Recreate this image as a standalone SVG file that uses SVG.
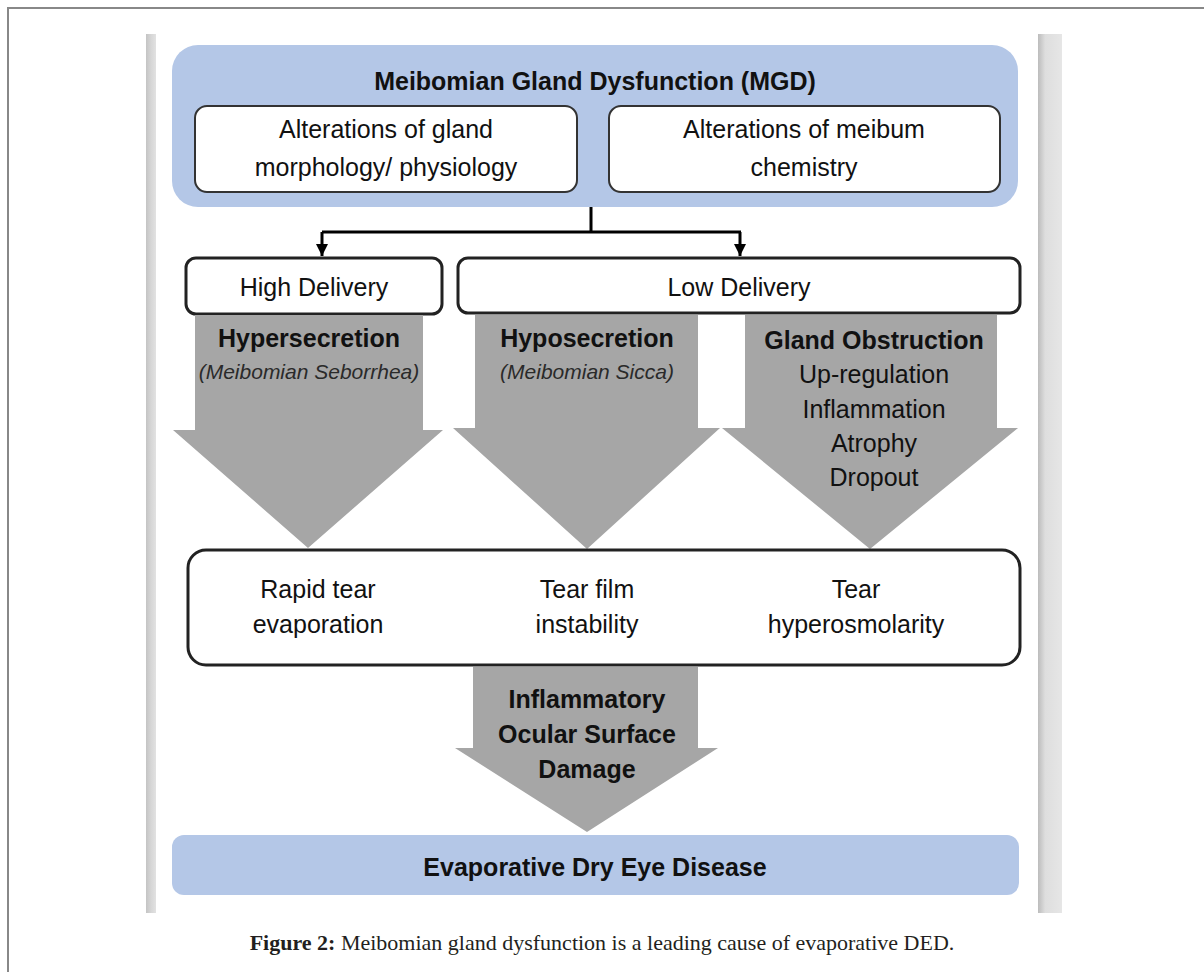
<svg xmlns="http://www.w3.org/2000/svg" width="1204" height="972" viewBox="0 0 1204 972">
<defs>
<linearGradient id="barL" x1="0" y1="0" x2="1" y2="0">
<stop offset="0" stop-color="#c4c4c4"/><stop offset="0.5" stop-color="#d6d6d6"/><stop offset="1" stop-color="#e2e2e2"/>
</linearGradient>
<linearGradient id="barR" x1="0" y1="0" x2="1" y2="0">
<stop offset="0" stop-color="#bcbcbc"/><stop offset="0.3" stop-color="#dedede"/><stop offset="1" stop-color="#e6e6e6"/>
</linearGradient>
<marker id="ah" viewBox="0 0 10 10" refX="10" refY="5" markerWidth="4" markerHeight="4" orient="auto" markerUnits="strokeWidth">
<path d="M0,0 L10,5 L0,10 z" fill="#000"/>
</marker>
<style>
.t{font-family:"Liberation Sans",Arial,sans-serif;font-size:25px;fill:#111;text-anchor:middle}
.b{font-weight:bold}
.i{font-style:italic;font-size:21px;fill:#2a2a2a}
.wbox{fill:#fff;stroke:#222;stroke-width:3}
.sbox{fill:#fff;stroke:#333;stroke-width:2}
.blue{fill:#b4c7e7}
.garrow{fill:#a6a6a6}
.conn{fill:none;stroke:#000;stroke-width:3}
</style>
</defs>
<rect width="1204" height="972" fill="#fff"/>
<!-- page frame -->
<path d="M8,972 L8,8 L1204,8" fill="none" stroke="#888" stroke-width="2"/>
<rect x="146" y="34" width="10" height="879" fill="url(#barL)"/>
<rect x="1038" y="34" width="24" height="879" fill="url(#barR)"/>

<g id="mgd">
<rect class="blue" x="172" y="45" width="846" height="162" rx="26"/>
<text class="t b" x="595" y="90">Meibomian Gland Dysfunction (MGD)</text>
</g>
<g id="alt-morph">
<rect class="sbox" x="195" y="106" width="382" height="86" rx="12"/>
<text class="t" x="386" y="138">Alterations of gland</text>
<text class="t" x="386" y="176">morphology/ physiology</text>
</g>
<g id="alt-chem">
<rect class="sbox" x="609" y="106" width="391" height="86" rx="12"/>
<text class="t" x="804" y="138">Alterations of meibum</text>
<text class="t" x="804" y="176">chemistry</text>
</g>

<g id="connectors">
<path class="conn" d="M591,207 V232 M322,232 H741"/>
<path class="conn" d="M322,232 V256" marker-end="url(#ah)"/>
<path class="conn" d="M740,232 V256" marker-end="url(#ah)"/>
</g>

<g id="high-delivery">
<rect class="wbox" x="186" y="258" width="256" height="56" rx="10"/>
<text class="t" x="314" y="296">High Delivery</text>
</g>
<g id="low-delivery">
<rect class="wbox" x="458" y="258" width="562" height="55" rx="10"/>
<text class="t" x="739" y="296">Low Delivery</text>
</g>

<g id="hypersecretion">
<polygon class="garrow" points="195,315 423,315 423,430 443,430 308,548 173,430 195,430"/>
<text class="t b" x="309" y="347">Hypersecretion</text>
<text class="t i" x="309" y="379">(Meibomian Seborrhea)</text>
</g>
<g id="hyposecretion">
<polygon class="garrow" points="475,315 698,315 698,428 720,428 587,549 453,428 475,428"/>
<text class="t b" x="587" y="347">Hyposecretion</text>
<text class="t i" x="587" y="379">(Meibomian Sicca)</text>
</g>
<g id="obstruction">
<polygon class="garrow" points="745,315 997,315 997,428 1018,428 870,549 722,428 745,428"/>
<text class="t b" x="874" y="349">Gland Obstruction</text>
<text class="t" x="874" y="383">Up-regulation</text>
<text class="t" x="874" y="418">Inflammation</text>
<text class="t" x="874" y="452">Atrophy</text>
<text class="t" x="874" y="486">Dropout</text>
</g>

<g id="tear-effects">
<rect class="wbox" x="188" y="550" width="832" height="115" rx="18"/>
<text class="t" x="318" y="598">Rapid tear</text>
<text class="t" x="318" y="633">evaporation</text>
<text class="t" x="587" y="598">Tear film</text>
<text class="t" x="587" y="633">instability</text>
<text class="t" x="856" y="598">Tear</text>
<text class="t" x="856" y="633">hyperosmolarity</text>
</g>

<g id="damage">
<polygon class="garrow" points="473,667 698,667 698,748 718,748 587,832 455,748 473,748"/>
<text class="t b" x="587" y="708">Inflammatory</text>
<text class="t b" x="587" y="743">Ocular Surface</text>
<text class="t b" x="587" y="778">Damage</text>
</g>

<g id="dry-eye">
<rect class="blue" x="172" y="835" width="847" height="60" rx="12"/>
<text class="t b" x="595" y="876">Evaporative Dry Eye Disease</text>
</g>

<text x="602" y="950" font-family="'Liberation Serif','Times New Roman',serif" font-size="22" fill="#231f20" text-anchor="middle"><tspan font-weight="bold">Figure 2:</tspan> Meibomian gland dysfunction is a leading cause of evaporative DED.</text>
</svg>
